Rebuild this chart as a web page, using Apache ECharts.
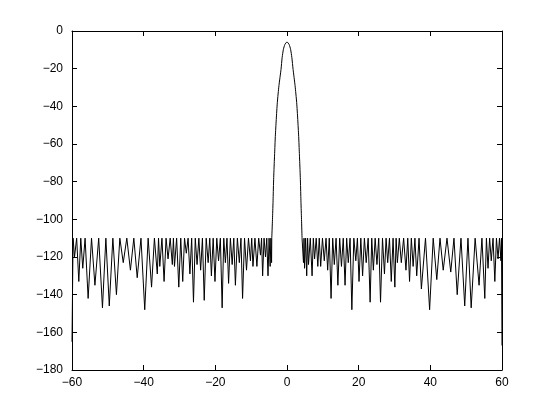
<!DOCTYPE html>
<html>
<head>
<meta charset="utf-8">
<script src="https://cdn.jsdelivr.net/npm/echarts@6/dist/echarts.min.js"></script>
<style>
  html, body { margin: 0; padding: 0; background: #fff; }
  #chart { width: 554px; height: 416px; }
</style>
</head>
<body>
<div id="chart"></div>
<script>
// frequency response, dB — vertices (peaks/nulls of each lobe)

// left sidelobes, -60 .. mainlobe
const leftX = [
  -60, -59.7, -59.3, -58.7, -58.1, -57.55, -57.0, -56.35, -55.5, -54.55,
  -53.6, -52.55, -51.5, -50.55, -49.6, -48.6, -47.6, -46.65, -45.7, -44.7,
  -43.7, -42.75, -41.8, -40.75, -39.7, -38.75, -37.8, -37.0, -36.2, -35.85,
  -35.5, -34.9, -34.3, -33.75, -33.2, -32.6, -32.0, -31.7, -31.4, -30.8,
  -30.2, -29.65, -29.1, -28.6, -28.1, -27.6, -27.1, -26.6, -26.1, -25.6,
  -25.1, -24.6, -24.1, -23.6, -23.1, -22.55, -22.0, -21.55, -21.1, -20.6,
  -20.1, -19.6, -19.1, -18.6, -18.1, -17.65, -17.2, -16.75, -16.3, -15.8,
  -15.3, -14.85, -14.4, -13.85, -13.3, -12.85, -12.4, -11.85, -11.3, -10.75,
  -10.2, -9.85, -9.5, -8.95, -8.4, -7.9, -7.4, -7.1, -6.8, -6.4,
  -6.0, -5.65, -5.3, -5.0, -4.7, -4.5, -4.3, -4.25
]
const leftDb = [
  -165, -110, -120, -110, -133, -110, -126, -110, -142, -110,
  -135, -110, -147, -110, -146, -110, -140, -110, -123, -110,
  -127, -110, -131, -110, -148, -110, -136, -110, -129, -110,
  -125, -110, -133, -110, -121, -110, -124, -110, -125, -110,
  -136, -110, -133, -110, -118, -110, -129, -110, -144, -110,
  -124, -110, -127, -110, -143, -110, -123, -110, -130, -110,
  -133, -110, -122, -110, -147, -110, -123, -110, -134, -110,
  -124, -110, -135, -110, -123, -110, -142, -110, -127, -110,
  -122, -110, -125, -110, -125, -110, -119, -110, -130, -110,
  -120, -110, -130, -110, -125, -110, -123, -110
]

// mainlobe
const mainX = [
  -4.25, -4.05, -3.9, -3.78, -3.63, -3.45, -3.26, -3.0, -2.7, -2.25, -1.67, -1.35, -1.0, -0.6, 0,
  0.6, 1.0, 1.35, 1.7, 2.25, 2.7, 3.0, 3.26, 3.45, 3.63, 3.78, 3.9, 4.05, 4.2
]
const mainDb = [
  -110, -100, -91, -82, -73.5, -65, -56, -47, -38, -29, -20.4, -14, -9.7, -7.2, -5.8,
  -7.2, -9.7, -14, -20.4, -29, -38, -47, -56, -65, -73.5, -82, -91, -100, -110
]

// right sidelobes, mainlobe .. 60
const rightX = [
  4.2, 4.6, 4.75, 4.9, 5.2, 5.5, 5.75, 6.0, 6.5, 7.0,
  7.35, 7.7, 8.15, 8.6, 9.0, 9.4, 9.9, 10.4, 10.9, 11.35,
  11.8, 12.3, 12.75, 13.2, 13.7, 14.2, 14.7, 15.2, 15.7, 16.2,
  16.65, 17.1, 17.6, 18.1, 18.65, 19.2, 19.65, 20.1, 20.6, 21.1,
  21.6, 22.1, 22.65, 23.2, 23.65, 24.1, 24.6, 25.1, 25.6, 26.1,
  26.65, 27.2, 27.65, 28.1, 28.6, 29.1, 29.6, 30.1, 30.45, 30.8,
  31.35, 31.9, 32.55, 33.2, 33.7, 34.2, 34.7, 35.2, 35.7, 36.2,
  36.85, 37.5, 38.65, 39.8, 40.8, 41.8, 42.7, 43.6, 44.65, 45.7,
  46.6, 47.5, 48.55, 49.6, 50.5, 51.4, 52.5, 53.6, 54.4, 55.2,
  55.65, 56.1, 56.55, 57.0, 57.5, 58.0, 58.45, 58.9, 59.3, 59.7,
  59.85, 60
]
const rightDb = [
  -110, -123, -110, -126, -110, -130, -110, -124, -110, -130,
  -110, -121, -110, -125, -110, -125, -110, -122, -110, -127,
  -110, -142, -110, -124, -110, -135, -110, -125, -110, -135,
  -110, -123, -110, -148, -110, -122, -110, -133, -110, -130,
  -110, -123, -110, -144, -110, -127, -110, -124, -110, -144,
  -110, -129, -110, -123, -110, -133, -110, -136, -110, -123,
  -110, -123, -110, -127, -110, -133, -110, -125, -110, -130,
  -110, -137, -110, -148, -110, -132, -110, -127, -110, -128,
  -110, -140, -110, -146, -110, -147, -110, -135, -110, -142,
  -110, -126, -110, -122, -110, -133, -110, -121, -110, -122,
  -110, -167
]

const xTicks = [-60, -40, -20, 0, 20, 40, 60]
const yTicks = [-180, -160, -140, -120, -100, -80, -60, -40, -20, 0]

const pairs = (xs, ys) => xs.map((x, i) => [x, ys[i]])
const minus = (v) => String(v).replace('-', '\u2212')

const font = { fontFamily: 'Liberation Sans, Arial, sans-serif', fontSize: 12, color: '#000' }
// matlab-style box: frame on all four sides, ticks pointing inward
const frameLine = { show: true, onZero: false, lineStyle: { color: '#000', width: 1 } }
const innerTick = { show: true, inside: true, length: 5, lineStyle: { color: '#000', width: 1 } }

const chart = echarts.init(document.getElementById('chart'), null, { renderer: 'canvas' })

const lineSeries = (data, smooth) => ({
  type: 'line',
  data,
  smooth,
  symbol: 'none',
  lineStyle: { color: '#000', width: 1 },
  xAxisIndex: 0,
  yAxisIndex: 0,
})

const xAxisBase = {
  type: 'value',
  min: xTicks[0],
  max: xTicks[xTicks.length - 1],
  interval: 20,
  axisLine: frameLine,
  axisTick: innerTick,
  splitLine: { show: false },
}
const yAxisBase = {
  type: 'value',
  min: yTicks[0],
  max: yTicks[yTicks.length - 1],
  interval: 20,
  axisLine: frameLine,
  axisTick: innerTick,
  splitLine: { show: false },
}

chart.setOption({
  animation: false,
  backgroundColor: '#fff',
  grid: { left: 72, right: 52, top: 31, bottom: 46, containLabel: false },
  xAxis: [
    { ...xAxisBase, position: 'bottom', axisLabel: { ...font, margin: 7, formatter: minus } },
    { ...xAxisBase, position: 'top', axisLabel: { show: false } },
  ],
  yAxis: [
    { ...yAxisBase, position: 'left', axisLabel: { ...font, margin: 9, formatter: minus } },
    { ...yAxisBase, position: 'right', axisLabel: { show: false } },
  ],
  series: [
    lineSeries(pairs(leftX, leftDb), false),
    lineSeries(pairs(mainX, mainDb), 0.2),
    lineSeries(pairs(rightX, rightDb), false),
  ],
})
</script>
</body>
</html>
